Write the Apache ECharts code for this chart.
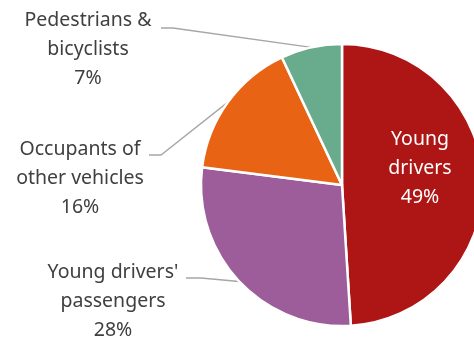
<!DOCTYPE html>
<html><head><meta charset="utf-8">
<script src="https://cdn.jsdelivr.net/npm/echarts@6/dist/echarts.min.js"></script>
<style>html,body{margin:0;padding:0;background:#fff}#c{width:474px;height:339px}</style>
</head><body><div id="c"></div>
<script>
const categories = ["Young\ndrivers", "Young drivers'\npassengers", "Occupants of\nother vehicles", "Pedestrians &\nbicyclists"];
const values = [49, 28, 16, 7];
const colors = ["#AE1515", "#9D5D9A", "#E86414", "#69AC8D"];
const labelPos = [[420, 168], [113, 301], [80, 178], [88, 49]];
// label-line elbow: [start x, elbow x, y] next to first text line
const elbows = [null, [186, 201, 278], [149, 161, 155], [161, 173, 28]];

const CX = 342, CY = 185, R = 141;
const total = values.reduce((a, b) => a + b, 0);
function anchor(i) {
  let cum = 0;
  for (let k = 0; k < i; k++) cum += values[k];
  const a = (cum + values[i] / 2) / total * Math.PI * 2;
  return [CX + R * Math.sin(a), CY - R * Math.cos(a)];
}

const chart = echarts.init(document.getElementById('c'), null, {renderer: 'canvas'});
chart.setOption({
  animation: false,
  series: [{
    type: 'pie',
    center: [CX, CY],
    radius: R,
    startAngle: 90,
    clockwise: true,
    avoidLabelOverlap: false,
    itemStyle: {borderColor: '#fff', borderWidth: 2.5},
    label: {
      show: true,
      formatter: '{b}\n{c}%',
      fontFamily: 'Noto Sans',
      fontSize: 19.5,
      lineHeight: 29,
      color: '#404040',
      align: 'center'
    },
    labelLine: {show: true, length: 10, length2: 10, lineStyle: {color: '#A6A6A6', width: 1.3}},
    labelLayout: function (p) {
      const i = p.dataIndex;
      const pos = labelPos[i];
      const res = {x: pos[0], y: pos[1], align: 'center', verticalAlign: 'middle'};
      const e = elbows[i];
      if (e) {
        const a = (p.labelLinePoints && p.labelLinePoints[0]) || anchor(i);
        res.labelLinePoints = [[a[0], a[1]], [e[1], e[2]], [e[0], e[2]]];
      }
      return res;
    },
    data: categories.map((n, i) => ({
      name: n, value: values[i], itemStyle: {color: colors[i]},
      label: i === 0 ? {position: 'inside', color: '#fff'} : {},
      labelLine: i === 0 ? {show: false} : {}
    }))
  }]
});
</script></body></html>
